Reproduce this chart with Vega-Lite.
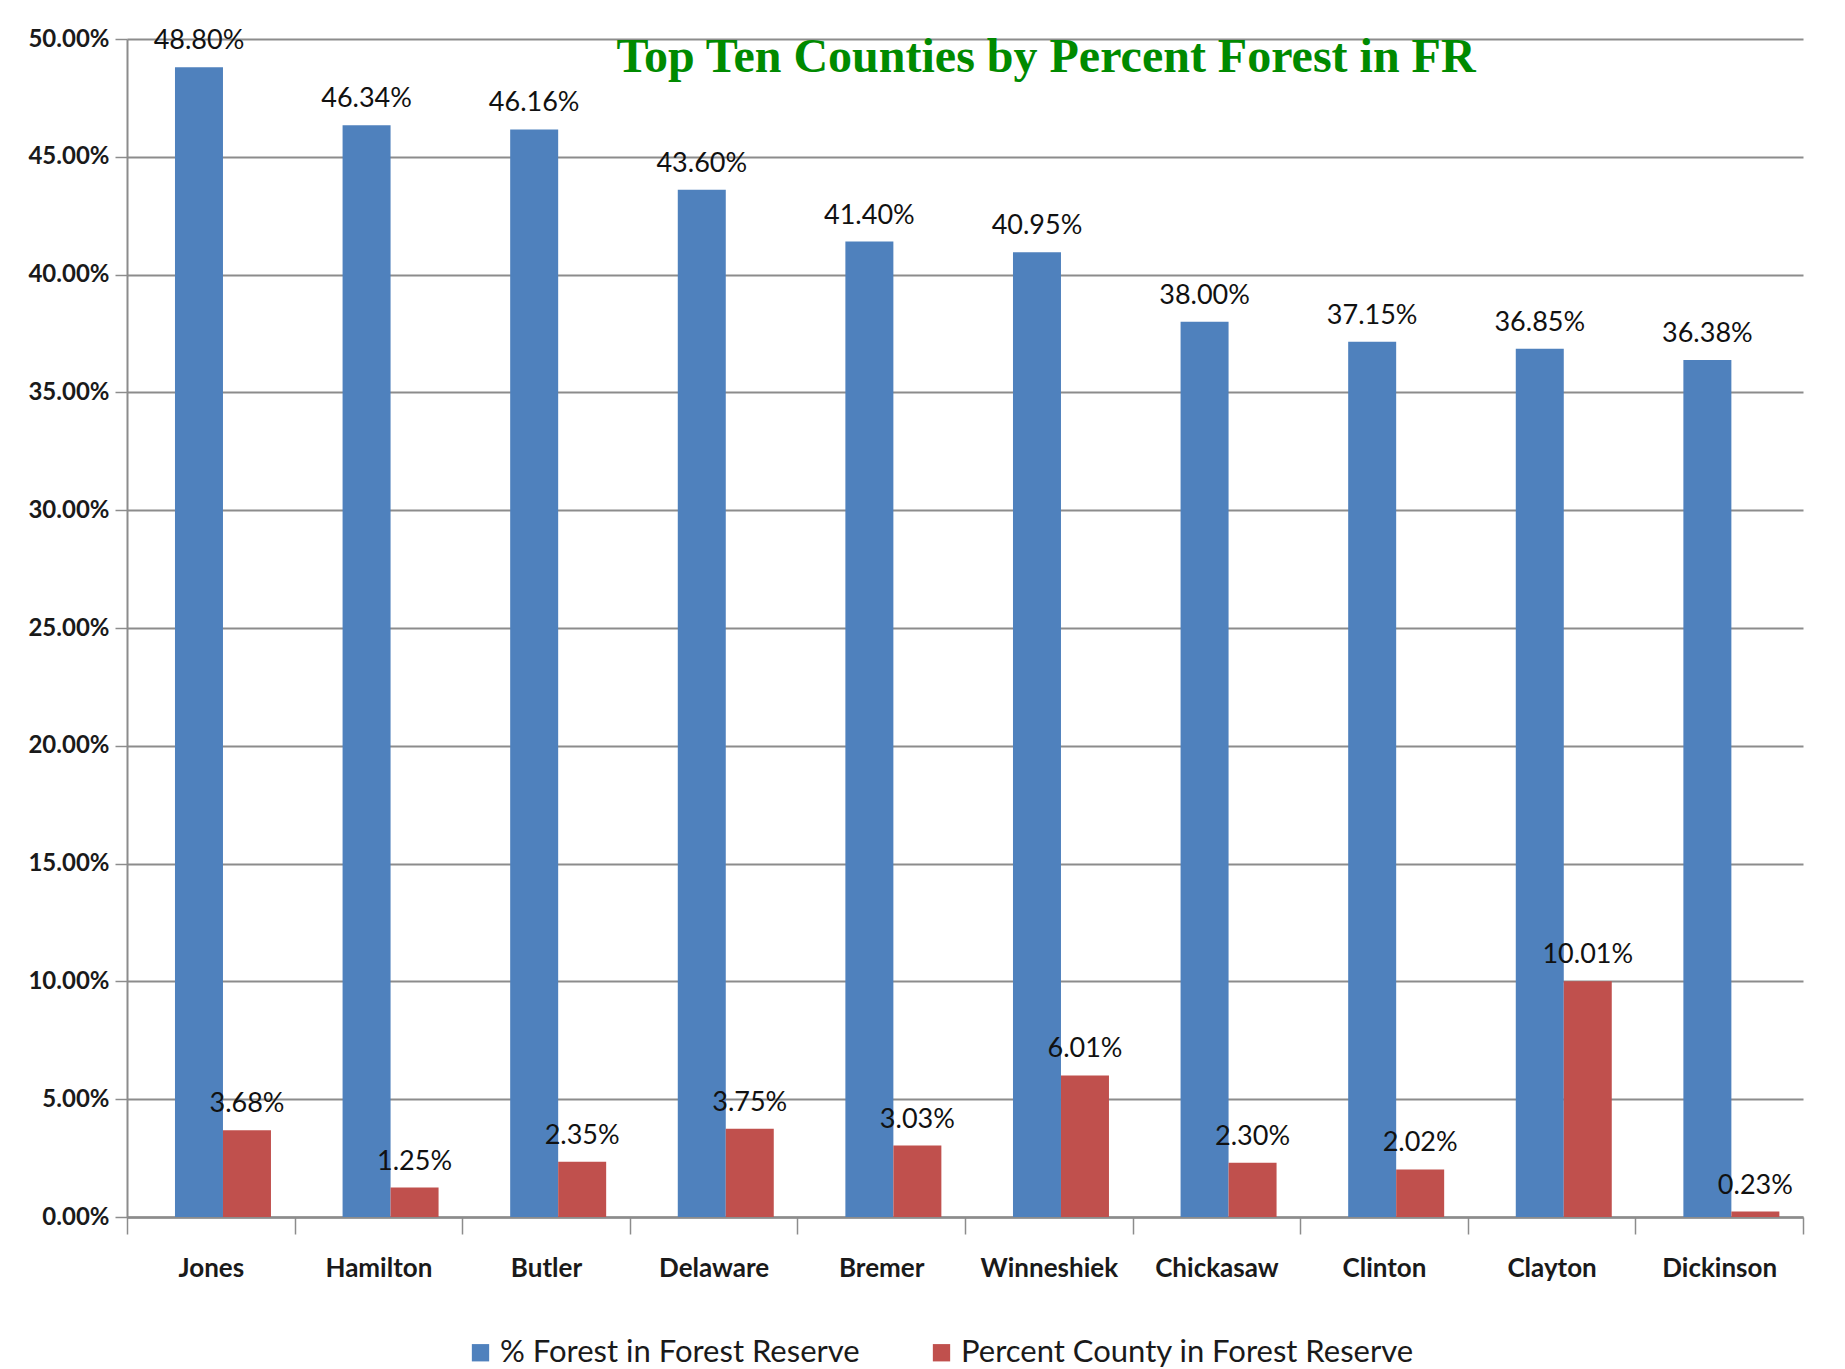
{
  "$schema": "https://vega.github.io/schema/vega-lite/v6.json",
  "autosize": {"type": "none"},
  "padding": {"left": 127, "top": 39, "right": 42, "bottom": 152},
  "width": 1676,
  "height": 1178,
  "background": "white",
  "title": {
    "text": "Top Ten Counties by Percent Forest in FR",
    "font": "Liberation Serif",
    "fontSize": 48,
    "fontWeight": "bold",
    "color": "#008A00",
    "anchor": "middle",
    "frame": "group",
    "dx": 81,
    "offset": -55
  },
  "data": {
    "values": [
      {"county": "Jones", "series": "% Forest in Forest Reserve", "value": 0.4880},
      {"county": "Hamilton", "series": "% Forest in Forest Reserve", "value": 0.4634},
      {"county": "Butler", "series": "% Forest in Forest Reserve", "value": 0.4616},
      {"county": "Delaware", "series": "% Forest in Forest Reserve", "value": 0.4360},
      {"county": "Bremer", "series": "% Forest in Forest Reserve", "value": 0.4140},
      {"county": "Winneshiek", "series": "% Forest in Forest Reserve", "value": 0.4095},
      {"county": "Chickasaw", "series": "% Forest in Forest Reserve", "value": 0.3800},
      {"county": "Clinton", "series": "% Forest in Forest Reserve", "value": 0.3715},
      {"county": "Clayton", "series": "% Forest in Forest Reserve", "value": 0.3685},
      {"county": "Dickinson", "series": "% Forest in Forest Reserve", "value": 0.3638},
      {"county": "Jones", "series": "Percent County in Forest Reserve", "value": 0.0368},
      {"county": "Hamilton", "series": "Percent County in Forest Reserve", "value": 0.0125},
      {"county": "Butler", "series": "Percent County in Forest Reserve", "value": 0.0235},
      {"county": "Delaware", "series": "Percent County in Forest Reserve", "value": 0.0375},
      {"county": "Bremer", "series": "Percent County in Forest Reserve", "value": 0.0303},
      {"county": "Winneshiek", "series": "Percent County in Forest Reserve", "value": 0.0601},
      {"county": "Chickasaw", "series": "Percent County in Forest Reserve", "value": 0.0230},
      {"county": "Clinton", "series": "Percent County in Forest Reserve", "value": 0.0202},
      {"county": "Clayton", "series": "Percent County in Forest Reserve", "value": 0.1001},
      {"county": "Dickinson", "series": "Percent County in Forest Reserve", "value": 0.0023}
    ]
  },
  "encoding": {
    "x": {
      "field": "county",
      "type": "nominal",
      "sort": null,
      "scale": {"paddingInner": 0, "paddingOuter": 0},
      "axis": {
        "title": null,
        "labelAngle": 0,
        "labelFont": "Lato",
        "labelFontSize": 26,
        "labelFontWeight": "bold",
        "labelColor": "#1a1a1a",
        "labelPadding": 21,
        "tickBand": "extent",
        "tickSize": 17,
        "tickColor": "#8c8c8c",
        "tickWidth": 1.5,
        "domainColor": "#8c8c8c",
        "domainWidth": 2.5,
        "grid": false
      }
    },
    "xOffset": {"field": "series", "type": "nominal", "scale": {"paddingInner": 0, "paddingOuter": 0.746, "align": 0.67}},
    "y": {
      "field": "value",
      "type": "quantitative",
      "scale": {"domain": [0, 0.5], "nice": false},
      "axis": {
        "title": null,
        "format": ".2%",
        "values": [0, 0.05, 0.1, 0.15, 0.2, 0.25, 0.3, 0.35, 0.4, 0.45, 0.5],
        "labelFont": "Lato",
        "labelFontSize": 24,
        "labelFontWeight": "bold",
        "labelColor": "#1a1a1a",
        "labelPadding": 6,
        "tickSize": 12,
        "tickColor": "#8c8c8c",
        "tickWidth": 1.5,
        "domainColor": "#8c8c8c",
        "domainWidth": 2,
        "grid": true,
        "gridColor": "#8c8c8c",
        "gridWidth": 2
      }
    }
  },
  "layer": [
    {
      "mark": {"type": "bar"},
      "encoding": {
        "color": {
          "field": "series",
          "type": "nominal",
          "scale": {"domain": ["% Forest in Forest Reserve", "Percent County in Forest Reserve"], "range": ["#4F81BD", "#C0504D"]},
          "legend": {
            "title": null,
            "orient": "none",
            "legendX": 338,
            "legendY": 1298,
            "direction": "horizontal",
            "symbolType": "square",
            "symbolSize": 300,
            "symbolStrokeWidth": 0,
            "labelFont": "Lato",
            "labelFontSize": 31,
            "labelColor": "#1a1a1a",
            "labelLimit": 600,
            "columnPadding": 66,
            "symbolOffset": 0
          }
        }
      }
    },
    {
      "mark": {"type": "text", "dy": -12, "baseline": "bottom", "font": "Lato", "fontSize": 27, "color": "#111111"},
      "encoding": {
        "text": {"field": "value", "type": "quantitative", "format": ".2%"}
      }
    }
  ],
  "config": {"view": {"stroke": null}}
}
